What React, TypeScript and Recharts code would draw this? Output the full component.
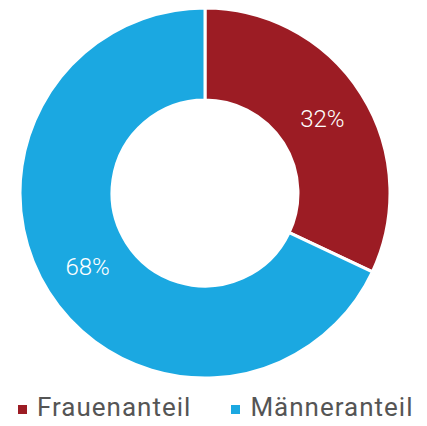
import { PieChart, Pie, Cell } from 'recharts'

const labels = ['Frauenanteil', 'Männeranteil']
const shares = [32, 68]
const colors = ['#9c1c24', '#1ba8e1']

const data = labels.map((name, i) => ({ name, value: shares[i] }))

const RAD = Math.PI / 180

// label inside the ring, midway between inner and outer radius
function renderLabel(props: any) {
  const { cx, cy, midAngle, innerRadius, outerRadius, value } = props
  const r = (innerRadius + outerRadius) / 2
  const x = cx + r * Math.cos(-midAngle * RAD)
  const y = cy + r * Math.sin(-midAngle * RAD)
  return (
    <text x={x} y={y} fill="#fff" textAnchor="middle" dominantBaseline="central"
      style={{ fontSize: 24, fontFamily: 'Roboto, sans-serif', fontWeight: 300 }}>
      {value}%
    </text>
  )
}

export default function App() {
  return (
    <div style={{ position: 'relative', width: 411, height: 410, background: '#fff' }}>
      <PieChart width={411} height={380}>
        <Pie
          data={data}
          dataKey="value"
          nameKey="name"
          cx={192}
          cy={180}
          innerRadius={93}
          outerRadius={185}
          startAngle={90}
          endAngle={-270}
          stroke="#fff"
          strokeWidth={3}
          label={renderLabel}
          labelLine={false}
          isAnimationActive={false}
        >
          {data.map((d, i) => (
            <Cell key={d.name} fill={colors[i]} />
          ))}
        </Pie>
      </PieChart>
      <div style={{ position: 'absolute', top: 384, left: 10, display: 'flex', alignItems: 'center',
        fontFamily: 'Roboto, sans-serif', fontSize: 26, color: '#555', letterSpacing: 1 }}>
        {data.map((d, i) => (
          <div key={d.name} style={{ display: 'flex', alignItems: 'center', marginRight: i === 0 ? 40 : 0 }}>
            <span style={{ width: 9, height: 9, background: colors[i], marginRight: 10, marginTop: 4 }} />
            <span>{d.name}</span>
          </div>
        ))}
      </div>
    </div>
  )
}
